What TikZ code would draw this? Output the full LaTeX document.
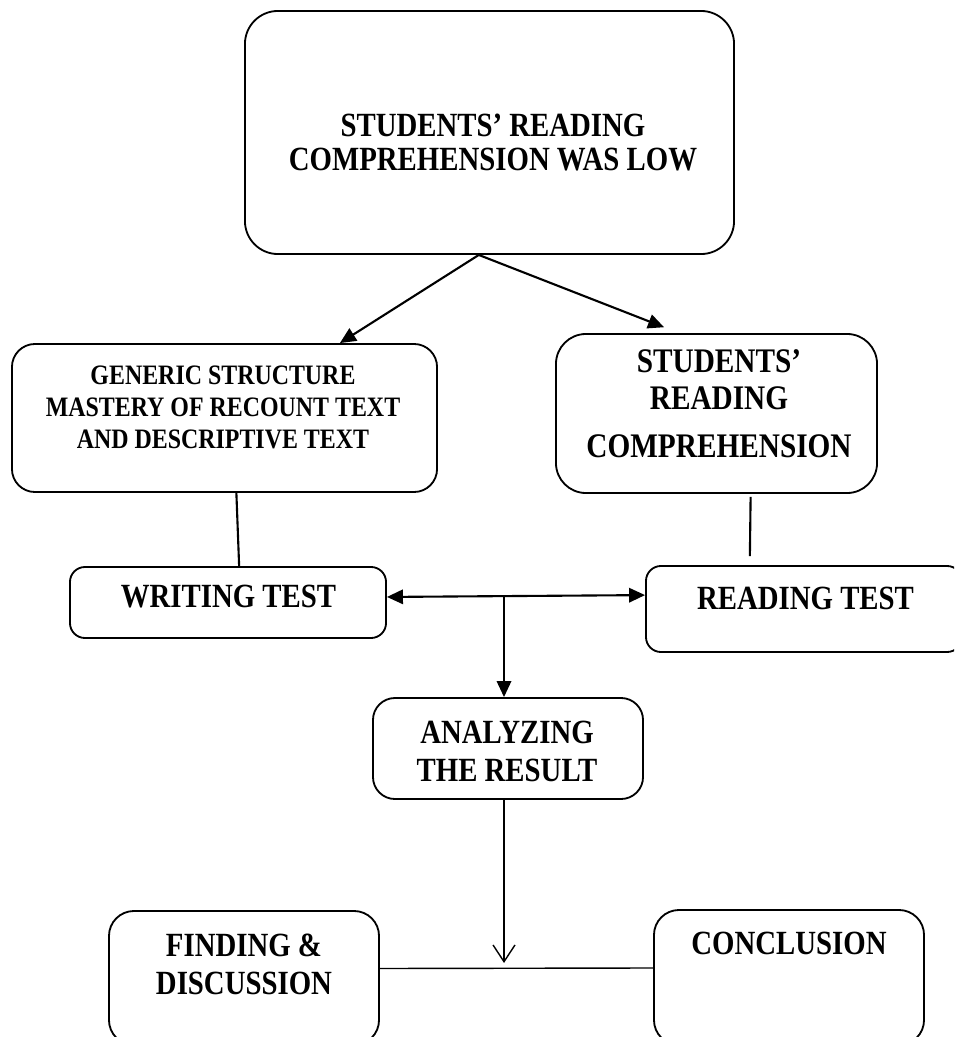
\documentclass[tikz,border=0pt]{standalone}
\usepackage{fontspec}
\setmainfont{Liberation Serif}[FakeStretch=0.85]
\usetikzlibrary{arrows.meta}

\begin{document}
\begin{tikzpicture}[x=0.025cm, y=-0.025cm,
        box/.style={draw, line width=1.3pt, inner sep=0pt},
        txt/.style={align=center, inner sep=0pt, font=\bfseries\fontsize{24.1}{27}\selectfont},
        tri/.style={-{Triangle[length=0.4cm,width=0.36cm]}, line width=1.5pt},
        dtri/.style={{Triangle[length=0.4cm,width=0.36cm]}-{Triangle[length=0.4cm,width=0.36cm]}, line width=1.5pt},
        barb/.style={-{Straight Barb[length=0.42cm,width=0.55cm]}, line width=1pt}]
        \useasboundingbox (0,0) rectangle (954,1037);
        \clip (0,0) rectangle (954,1037);

        \node[box, minimum width=12.225cm, minimum height=6.075cm, rounded corners=0.825cm] (low) at (489.5,132.5) {};
        \node[txt, font=\bfseries\fontsize{24.1}{23.5}\selectfont] (lowt) at (493,142.5) {STUDENTS' READING\\COMPREHENSION WAS LOW};

        \node[box, minimum width=10.625cm, minimum height=3.7cm, rounded corners=0.575cm] (gen) at (224.5,418) {};
        \node[txt, font=\bfseries\fontsize{20}{22.7}\selectfont] (gent) at (223,407) {GENERIC STRUCTURE\\MASTERY OF RECOUNT TEXT\\AND DESCRIPTIVE TEXT};

        \node[box, minimum width=8.025cm, minimum height=3.975cm, rounded corners=0.75cm] (src) at (716.5,413.5) {};
        \node[txt, font=\bfseries\fontsize{24.5}{26.3}\selectfont] (srct) at (719,404) {STUDENTS'\\READING\\[8pt]COMPREHENSION};

        \node[box, minimum width=7.9cm, minimum height=1.775cm, rounded corners=0.375cm] (wt) at (228,602.5) {};
        \node[txt] (wtt) at (228.5,597) {WRITING TEST};

        \node[box, minimum width=7.9cm, minimum height=2.15cm, rounded corners=0.375cm] (rt) at (804,609) {};
        \node[txt] (rtt) at (805.5,598) {READING TEST};

        \node[box, minimum width=6.75cm, minimum height=2.525cm, rounded corners=0.55cm] (an) at (508,748.5) {};
        \node[txt] (ant) at (507,751.5) {ANALYZING\\THE RESULT};

        \node[box, minimum width=6.75cm, minimum height=3.35cm, rounded corners=0.625cm] (fd) at (244,978) {};
        \node[txt] (fdt) at (244,964) {FINDING \&\\DISCUSSION};

        \node[box, minimum width=6.75cm, minimum height=3.375cm, rounded corners=0.625cm] (cc) at (789,977.5) {};
        \node[txt] (cct) at (789,943) {CONCLUSION};

        \draw[tri] (low.265.5) -- (gen.33);
        \draw[tri, shorten >=0.4cm] (low.265.5) -- (src.115);

        \draw[line width=1.5pt] (gen.279) -- (wt.73.5);
        \draw[line width=1.5pt, shorten <=0.075cm, shorten >=0.225cm] (src.293.5) -- (rt.141);

        \draw[dtri] (wt.2.7) -- (rt.175);
        \coordinate (j) at (504,595);
        \draw[tri] (j) -- (j |- an.north);

        \coordinate (m) at (504,968);
        \draw[barb, shorten >=0.125cm] (an.south -| m) -- (m);
        \draw[line width=1pt] (fd.4.2) -- (cc.176);
    \end{tikzpicture}
\end{document}
